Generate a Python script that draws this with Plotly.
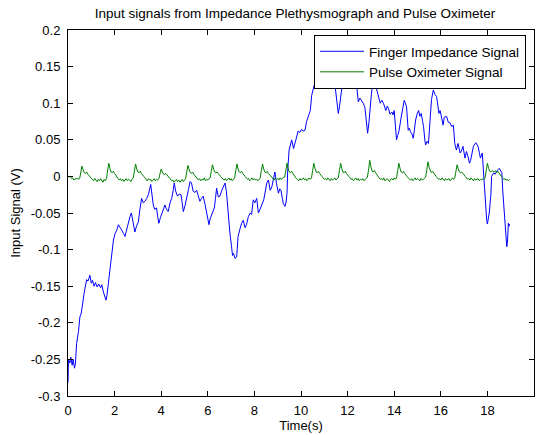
import numpy as np
import plotly.graph_objects as go

# ---------------- data ----------------
# Finger impedance signal (time in s, value in V)
imp_t = [0.00, 0.02, 0.08, 0.12, 0.18, 0.22, 0.28, 0.32, 0.37, 0.42, 0.45, 0.51, 0.56, 0.60, 0.66, 0.70, 0.73,
         0.80, 0.86, 0.94, 1.00, 1.05, 1.12, 1.18, 1.25, 1.32, 1.40, 1.45, 1.52, 1.58, 1.63, 1.67, 1.73,
         1.80, 1.87, 1.95, 2.02, 2.10, 2.16, 2.22, 2.30, 2.38, 2.45, 2.50, 2.58, 2.66, 2.72, 2.78, 2.87,
         2.94, 3.02, 3.09, 3.16, 3.23, 3.30, 3.38, 3.45, 3.55, 3.60, 3.66, 3.72, 3.80, 3.85, 3.90, 3.97,
         4.05, 4.10, 4.16, 4.23, 4.30, 4.38, 4.45, 4.52, 4.56, 4.62, 4.70, 4.78, 4.85, 4.90, 4.95, 5.02,
         5.10, 5.17, 5.24, 5.30, 5.37, 5.45, 5.52, 5.59, 5.66, 5.73, 5.80, 5.88, 5.95, 6.00, 6.05, 6.10,
         6.16, 6.22, 6.28, 6.33, 6.38, 6.45, 6.52, 6.60, 6.67, 6.74, 6.80, 6.88, 6.95, 7.02, 7.06, 7.10,
         7.17, 7.24, 7.30, 7.38, 7.45, 7.52, 7.60, 7.66, 7.74, 7.82, 7.88, 7.95, 8.02, 8.10, 8.17, 8.23,
         8.30, 8.36, 8.40, 8.47, 8.53, 8.60, 8.68, 8.75, 8.82, 8.88, 8.95, 9.03, 9.09, 9.14, 9.20, 9.24,
         9.31, 9.36, 9.40, 9.43, 9.49, 9.55, 9.60, 9.68, 9.74, 9.80, 9.88, 9.95, 10.02, 10.10, 10.17, 10.24,
         10.32, 10.40, 10.46, 10.52, 10.58, 10.65, 10.75, 10.85, 10.95, 11.05, 11.15, 11.25, 11.35, 11.45, 11.52, 11.60,
         11.65, 11.70, 11.77, 11.85, 11.95, 12.05, 12.15, 12.25, 12.35, 12.40, 12.46, 12.53, 12.60, 12.67, 12.74, 12.80,
         12.86, 12.92, 12.96, 13.02, 13.06, 13.12, 13.18, 13.25, 13.32, 13.40, 13.47, 13.54, 13.64, 13.70, 13.75, 13.82,
         13.90, 13.95, 14.00, 14.05, 14.10, 14.15, 14.20, 14.30, 14.36, 14.43, 14.48, 14.53, 14.60, 14.65, 14.70, 14.76,
         14.82, 14.88, 14.92, 14.98, 15.05, 15.10, 15.16, 15.22, 15.26, 15.32, 15.35, 15.41, 15.47, 15.54, 15.60, 15.68,
         15.75, 15.82, 15.88, 15.92, 15.97, 16.04, 16.10, 16.15, 16.25, 16.32, 16.40, 16.47, 16.54, 16.60, 16.67, 16.74,
         16.80, 16.83, 16.90, 16.95, 17.04, 17.10, 17.17, 17.23, 17.28, 17.33, 17.40, 17.50, 17.55, 17.60, 17.65, 17.70,
         17.78, 17.82, 17.86, 17.90, 17.94, 17.97, 18.00, 18.04, 18.08, 18.12, 18.15, 18.18, 18.22, 18.27, 18.33, 18.40,
         18.45, 18.51, 18.57, 18.62, 18.66, 18.71, 18.74, 18.77, 18.80, 18.83, 18.86, 18.87, 18.90, 18.93, 18.95]
imp_v = [-0.282, -0.250, -0.255, -0.247, -0.258, -0.250, -0.262, -0.255, -0.228, -0.220, -0.212, -0.192, -0.188, -0.180, -0.162, -0.158, -0.153,
         -0.141, -0.143, -0.135, -0.146, -0.142, -0.150, -0.145, -0.151, -0.147, -0.152, -0.148, -0.158, -0.163, -0.169, -0.163, -0.146,
         -0.125, -0.114, -0.087, -0.078, -0.073, -0.066, -0.070, -0.073, -0.078, -0.082, -0.075, -0.064, -0.055, -0.050, -0.060, -0.076,
         -0.068, -0.062, -0.044, -0.030, -0.036, -0.034, -0.030, -0.025, -0.011, -0.025, -0.039, -0.045, -0.043, -0.055, -0.064, -0.056,
         -0.048, -0.044, -0.039, -0.045, -0.048, -0.036, -0.030, -0.018, -0.009, -0.020, -0.027, -0.024, -0.025, -0.036, -0.048, -0.040,
         -0.030, -0.018, -0.007, -0.009, -0.020, -0.022, -0.019, -0.028, -0.034, -0.030, -0.027, -0.038, -0.048, -0.058, -0.066, -0.058,
         -0.052, -0.048, -0.043, -0.030, -0.016, -0.028, -0.027, -0.019, -0.015, -0.009, -0.021, -0.055, -0.078, -0.096, -0.108, -0.105,
         -0.112, -0.110, -0.082, -0.072, -0.064, -0.060, -0.070, -0.066, -0.055, -0.050, -0.052, -0.032, -0.036, -0.030, -0.050, -0.046,
         -0.041, -0.036, -0.032, -0.020, -0.009, -0.005, -0.019, -0.014, -0.004, 0.006, -0.010, -0.023, -0.017, -0.019, -0.030, -0.037,
         -0.041, -0.035, -0.023, 0.009, 0.036, 0.045, 0.050, 0.038, 0.045, 0.052, 0.062, 0.060, 0.064, 0.062, 0.063, 0.075,
         0.082, 0.090, 0.111, 0.120, 0.126, 0.133, 0.130, 0.136, 0.131, 0.134, 0.129, 0.133, 0.131, 0.127, 0.110, 0.086,
         0.095, 0.110, 0.125, 0.128, 0.133, 0.130, 0.134, 0.129, 0.131, 0.120, 0.102, 0.107, 0.104, 0.100, 0.095, 0.078,
         0.059, 0.075, 0.095, 0.112, 0.122, 0.130, 0.127, 0.118, 0.109, 0.100, 0.104, 0.100, 0.090, 0.096, 0.093, 0.085,
         0.088, 0.084, 0.090, 0.072, 0.050, 0.056, 0.061, 0.081, 0.095, 0.104, 0.100, 0.095, 0.063, 0.066, 0.061, 0.058,
         0.052, 0.068, 0.077, 0.085, 0.090, 0.082, 0.086, 0.075, 0.068, 0.048, 0.043, 0.048, 0.045, 0.077, 0.105, 0.118,
         0.112, 0.109, 0.095, 0.086, 0.090, 0.077, 0.070, 0.081, 0.082, 0.074, 0.073, 0.068, 0.070, 0.045, 0.036, 0.045,
         0.038, 0.032, 0.036, 0.041, 0.025, 0.034, 0.027, 0.018, 0.022, 0.029, 0.041, 0.046, 0.043, 0.041, 0.033, 0.025,
         0.032, 0.009, -0.012, -0.032, -0.050, -0.060, -0.065, -0.058, -0.050, -0.035, -0.025, 0.000, 0.003, 0.005, 0.003, 0.007,
         0.009, 0.011, 0.008, 0.005, -0.020, -0.041, -0.055, -0.073, -0.085, -0.096, -0.090, -0.082, -0.064, -0.068, -0.065]

pulse_dt = 0.05
pulse_mV = [1, -1, 0, -3, -2, -5, -3, -4, -2, -4,
            -3, 6, 14, 9, 5, 4, 6, 3, 1, 0, -2,
            -4, -6, -3, -5, -7, -4, -6, -3, -5, -8, -4, -6,
            -3, 8, 18, 11, 6, 5, 7, 4, 1, -1, -3,
            -5, -3, -6, -4, -7, -5, -3, -6, -4, -5, -7, -4,
            -2, 7, 17, 10, 6, 5, 7, 4, 1, 0, -2,
            -4, -6, -3, -5, -4, -7, -5, -3, -6, -4, -5,
            -3, 4, 10, 6, 3, 3, 4, 2, 0, -2, -4,
            -6, -5, -8, -6, -4, -7, -5, -8, -6, -4, -7, -5,
            -3, 7, 15, 9, 5, 4, 6, 3, 1, -1, -3,
            -5, -3, -6, -4, -5, -2, -6, -4, -5, -3,
            -2, 7, 16, 10, 6, 5, 6, 4, 1, 0, -2,
            -4, -5, -3, -6, -4, -2, -5, -3, -6, -4,
            -2, 8, 17, 10, 6, 5, 7, 4, 1, 0, -2,
            -4, -3, -6, -4, -2, -5, -3, -5, -4, -6, -3,
            -2, 8, 17, 10, 6, 5, 7, 4, 2, 0, -2,
            -3, -5, -2, -4, -3, -5, -2, -4, -3, -1,
            -1, 8, 18, 11, 6, 5, 7, 4, 1, -1, -3,
            -4, -6, -3, -5, -4, -2, -5, -3, -6, -4, -2, -4,
            -2, 8, 18, 11, 6, 5, 7, 4, 1, 0, -2,
            -4, -3, -5, -2, -4, -6, -3, -5, -4, -2, -5, -3,
            -2, 8, 18, 11, 6, 5, 7, 4, 1, 0, -2,
            -4, -3, -6, -4, -2, -5, -3, -6, -4, -5, -3, -6, -4, -3,
            -1, 9, 22, 13, 7, 6, 8, 5, 2, 0, -2,
            -4, -3, -5, -2, -6, -4, -3, -5, -7, -4, -3, -5, -2, -4,
            -2, 8, 18, 11, 6, 5, 7, 4, 1, 0, -2,
            -4, -5, -3, -6, -4, -2, -5, -3, -4, -6, -3, -5, -4, -2,
            -1, 9, 20, 12, 7, 5, 7, 4, 1, 0, -2,
            -4, -3, -5, -2, -4, -6, -3, -5, -4, -3, -6, -4, -2, -4,
            -2, 7, 16, 10, 6, 5, 6, 4, 1, 0, -2,
            -4, -3, -5, -2, -4, -6, -3, -5, -4, -3, -6, -4, -5, -3, -4,
            -2, 8, 18, 11, 7, 6, 8, 7, 6, 8, 5, 7, 4, 2, 0, -2,
            -4, -3, -5, -4, -6, -4]

x_ticks = [0, 2, 4, 6, 8, 10, 12, 14, 16, 18, 20]
y_ticks = [-0.3, -0.25, -0.2, -0.15, -0.1, -0.05, 0, 0.05, 0.1, 0.15, 0.2]
y_tick_text = ["-0.3", "-0.25", "-0.2", "-0.15", "-0.1", "-0.05", "0", "0.05", "0.1", "0.15", "0.2"]

title_text = "Input signals from Impedance Plethysmograph and Pulse Oximeter"
x_title = "Time(s)"
y_title = "Input Signal (V)"
series_names = ["Finger Impedance Signal", "Pulse Oximeter Signal"]

# ---------------- figure ----------------
pulse_t = np.arange(len(pulse_mV)) * pulse_dt
pulse_v = np.array(pulse_mV) / 1000.0

FONT = "Liberation Sans, Arial, Helvetica, sans-serif"

fig = go.Figure()
fig.add_trace(go.Scatter(x=imp_t, y=imp_v, mode="lines", name=series_names[0],
                         line=dict(color="#0000FF", width=1)))
fig.add_trace(go.Scatter(x=pulse_t, y=pulse_v, mode="lines", name=series_names[1],
                         line=dict(color="#008000", width=1)))

axis_common = dict(showline=True, linecolor="black", linewidth=1, mirror="ticks",
                   ticks="inside", ticklen=5, tickcolor="black", tickwidth=1,
                   showgrid=False, zeroline=False,
                   tickfont=dict(family=FONT, size=13, color="black"))

fig.update_xaxes(range=[0, 20], tickvals=x_ticks, ticktext=[str(v) for v in x_ticks],
                 title=dict(text=x_title, font=dict(family=FONT, size=13, color="black"), standoff=3),
                 ticklabelstandoff=2, **axis_common)
fig.update_yaxes(range=[-0.3, 0.2], tickvals=y_ticks, ticktext=y_tick_text,
                 title=dict(text=y_title, font=dict(family=FONT, size=13, color="black"), standoff=7),
                 ticklabelstandoff=4, **axis_common)

fig.update_layout(
    width=541, height=435,
    margin=dict(l=68, r=7, t=30, b=39, autoexpand=False),
    paper_bgcolor="white", plot_bgcolor="white",
    title=dict(text=title_text, x=(295 - 68) / 466, xref="paper", xanchor="center",
               y=1 - 13 / 435, yref="container", yanchor="middle",
               font=dict(family=FONT, size=13.5, color="black")),
    legend=dict(x=(526 - 68) / 466, y=1 - (35 - 30) / 366, xanchor="right", yanchor="top",
                bgcolor="white", bordercolor="black", borderwidth=1,
                font=dict(family=FONT, size=13.5, color="black"),
                tracegroupgap=0, itemwidth=44),
    showlegend=True,
)

fig.write_html("out.html", config={"displayModeBar": False},
               post_script="document.body.style.margin='0';document.body.style.padding='0';")
